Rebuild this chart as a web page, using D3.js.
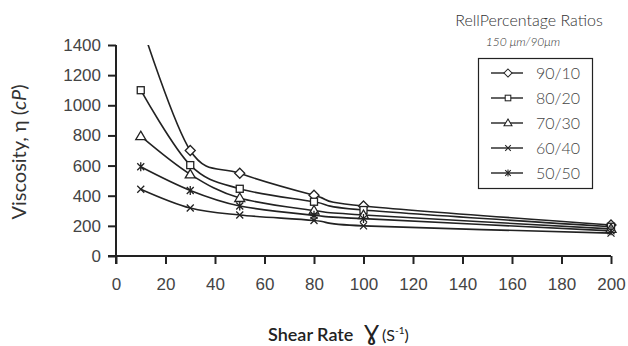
<!DOCTYPE html>
<html>
<head>
<meta charset="utf-8">
<script src="https://cdn.jsdelivr.net/npm/d3@7"></script>
<style>
  body { margin: 0; background: #fff; }
  svg { display: block; font-family: Lato, "Noto Sans", sans-serif; }
</style>
</head>
<body>
<svg id="chart" width="628" height="346"></svg>
<script>
// shear rate (1/s)
const shearRates = [10, 30, 50, 80, 100, 200];

// viscosity (cP) for each 150um/90um ratio
const r90_10 = [1550, 700, 549, 403, 332, 206];
const r80_20 = [1100, 603, 446, 360, 305, 194];
const r70_30 = [795, 542, 385, 302, 272, 180];
const r60_40 = [443, 318, 272, 236, 200, 152];
const r50_50 = [592, 435, 332, 270, 248, 167];

const seriesNames = ['90/10', '80/20', '70/30', '60/40', '50/50'];
const seriesValues = [r90_10, r80_20, r70_30, r60_40, r50_50];
const markerKinds = ['diamond', 'square', 'triangle', 'cross', 'star'];

const xTicks = [0, 20, 40, 60, 80, 100, 120, 140, 160, 180, 200];
const yTicks = [0, 200, 400, 600, 800, 1000, 1200, 1400];

const svg = d3.select('#chart');
const ink = '#222';

const x = d3.scaleLinear().domain([0, 200]).range([116, 611]);
const y = d3.scaleLinear().domain([0, 1400]).range([256, 45]);

svg.append('clipPath').attr('id', 'plot')
  .append('rect').attr('x', 116).attr('y', 45).attr('width', 500).attr('height', 212);

// axes
const yAxis = svg.append('g').attr('transform', 'translate(116,0)')
  .call(d3.axisLeft(y).tickValues(yTicks).tickSize(8).tickPadding(7).tickFormat(d3.format('d')));
const xAxis = svg.append('g').attr('transform', 'translate(0,256)')
  .call(d3.axisBottom(x).tickValues(xTicks).tickSize(8).tickPadding(14).tickFormat(d3.format('d')));

[xAxis, yAxis].forEach(function(a) {
  a.select('.domain').attr('stroke', ink).attr('stroke-width', 2);
  a.selectAll('.tick line').attr('stroke', ink).attr('stroke-width', 2);
  a.selectAll('.tick text').attr('fill', '#444').style('font-size', '17px').style('font-weight', 300);
});
yAxis.select('.domain').attr('d', 'M0,45V264');
xAxis.select('.domain').attr('d', 'M108,0H611');

// lines
const line = d3.line()
  .x(function(d, i) {return x(shearRates[i])})
  .y(function(d) {return y(d)})
  .curve(d3.curveCardinal);

svg.append('g').attr('clip-path', 'url(#plot)')
  .selectAll('path').data(seriesValues).enter().append('path')
  .attr('d', line)
  .attr('fill', 'none')
  .attr('stroke', ink)
  .attr('stroke-width', 1.6);

function marker(g, kind, k) {
  if (kind === 'diamond') {
    g.append('path').attr('d', 'M0,-5L5,0L0,5L-5,0Z').attr('fill', '#fff').attr('stroke', ink).attr('stroke-width', 1.3);
  } else if (kind === 'square') {
    g.append('rect').attr('x', -3.5).attr('y', -3.5).attr('width', 7).attr('height', 7)
      .attr('fill', '#fff').attr('stroke', ink).attr('stroke-width', 1.3);
  } else if (kind === 'triangle') {
    g.append('path').attr('d', 'M0,-5L5,3.5L-5,3.5Z').attr('fill', '#fff').attr('stroke', ink).attr('stroke-width', 1.3);
  } else if (kind === 'cross') {
    g.append('path').attr('d', 'M-3.5,-3.5L3.5,3.5M-3.5,3.5L3.5,-3.5').attr('stroke', ink).attr('stroke-width', 1.3);
  } else {
    g.append('path').attr('d', 'M-3.5,-3.5L3.5,3.5M-3.5,3.5L3.5,-3.5M0,-4.5V4.5').attr('stroke', ink).attr('stroke-width', 1.3);
  }
  if (k) g.attr('transform', g.attr('transform') + ' scale(' + k + ')');
}

// markers, only those inside the plot
seriesValues.forEach(function(vals, s) {
  vals.forEach(function(v, i) {
    if (v > 1400) return;
    const g = svg.append('g').attr('transform', 'translate(' + x(shearRates[i]) + ',' + y(v) + ')');
    marker(g, markerKinds[s]);
  });
});

// legend
svg.append('text').attr('x', 529).attr('y', 26).attr('text-anchor', 'middle')
  .attr('fill', '#333').style('font-size', '16px').style('font-weight', 300).text('RellPercentage Ratios');
svg.append('text').attr('x', 523).attr('y', 46).attr('text-anchor', 'middle')
  .attr('fill', '#333').style('font-size', '12px').style('font-style', 'italic').style('font-weight', 300).text('150 μm/90μm');

svg.append('rect').attr('x', 478.5).attr('y', 58.5).attr('width', 114).attr('height', 130)
  .attr('fill', '#fff').attr('stroke', ink).attr('stroke-width', 1.2);

const leg = svg.selectAll('.leg').data(seriesNames).enter().append('g')
  .attr('class', 'leg')
  .attr('transform', function(d, i) {return 'translate(0,' + (73 + i * 25) + ')'});
leg.append('line').attr('x1', 491).attr('x2', 523).attr('stroke', ink).attr('stroke-width', 1.4);
leg.each(function(d, i) {
  const g = d3.select(this).append('g').attr('transform', 'translate(508,0)');
  marker(g, markerKinds[i], 0.8);
});
leg.append('text').attr('x', 536).attr('dy', '0.35em').attr('fill', '#444')
  .style('font-size', '16px').style('font-weight', 300).text(function(d) {return d});

// axis titles
const yt = svg.append('text').attr('transform', 'translate(26,152) rotate(-90)')
  .attr('text-anchor', 'middle').attr('fill', '#333').style('font-size', '20px');
yt.append('tspan').text('Viscosity, η (');
yt.append('tspan').style('font-style', 'italic').text('cP');
yt.append('tspan').text(')');

const xt = svg.append('text').attr('x', 268).attr('y', 341).attr('fill', '#222');
xt.append('tspan').style('font-size', '18px').style('font-weight', 600).text('Shear Rate ');
xt.append('tspan').attr('dx', 6).style('font-size', '22px').style('font-family', '"DejaVu Sans"').text('Ɣ');
xt.append('tspan').attr('dx', 3).style('font-size', '16px').text('(S');
xt.append('tspan').attr('dy', -7).style('font-size', '10px').text('-1');
xt.append('tspan').attr('dy', 7).style('font-size', '16px').text(')');
</script>
</body>
</html>
